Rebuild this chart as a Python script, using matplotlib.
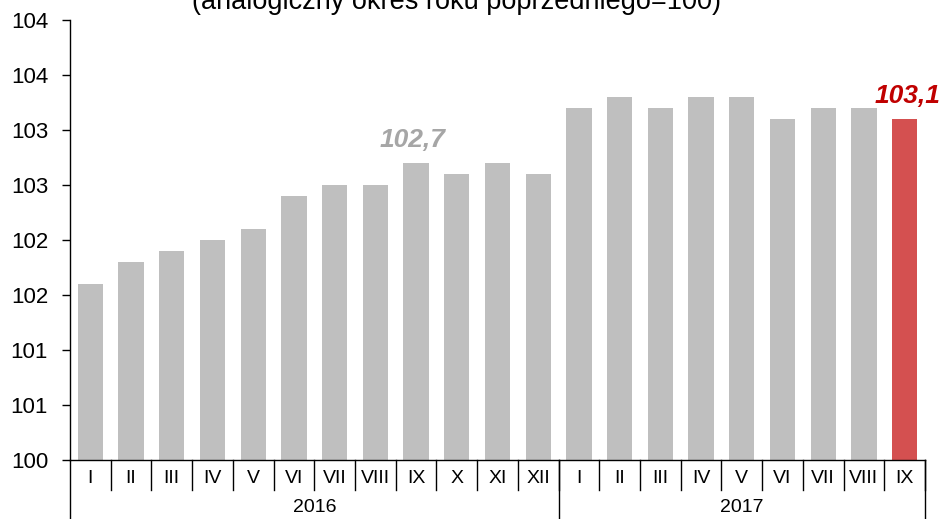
import matplotlib
matplotlib.use("Agg")
import matplotlib.pyplot as plt

months = ["I", "II", "III", "IV", "V", "VI", "VII", "VIII", "IX", "X", "XI", "XII",
          "I", "II", "III", "IV", "V", "VI", "VII", "VIII", "IX"]
years = ["2016", "2017"]
year_counts = [12, 9]
values = [101.6, 101.8, 101.9, 102.0, 102.1, 102.4, 102.5, 102.5, 102.7, 102.6, 102.7, 102.6,
          103.2, 103.3, 103.2, 103.3, 103.3, 103.1, 103.2, 103.2, 103.1]
yticks = [100, 100.5, 101, 101.5, 102, 102.5, 103, 103.5, 104]
ytick_labels = ["100", "101", "101", "102", "102", "103", "103", "104", "104"]
subtitle = "(analogiczny okres roku poprzedniego=100)"
highlight_idx = [8, 20]
highlight_labels = ["102,7", "103,1"]

plt.rcParams['font.family'] = ['Liberation Sans', 'DejaVu Sans']

fig = plt.figure(figsize=(9.45, 5.19), dpi=100)
ax = fig.add_axes([70/945, 59/519, 855/945, 440/519])

grey = "#BFBFBF"
red = "#D45050"
colors = [grey] * len(values)
colors[-1] = red
x = list(range(len(values)))
ax.bar(x, [v - 100 for v in values], bottom=100, width=0.62, color=colors, zorder=2)

ax.set_xlim(-0.5, len(values) - 0.5)
ax.set_ylim(100, 104)
ax.set_yticks(yticks)
ax.set_yticklabels(ytick_labels, fontsize=16)
ax.tick_params(axis='y', direction='out', length=5.8, width=1, pad=10, colors='black')
ax.set_xticks([])
for s in ['top', 'right']:
    ax.spines[s].set_visible(False)
ax.spines['left'].set_linewidth(1)
ax.spines['bottom'].set_linewidth(1)

# month labels and separators
trans = ax.get_xaxis_transform()
for i, m in enumerate(months):
    ax.text(i, -0.041, m, transform=trans, ha='center', va='center', fontsize=14)
for i in range(1, len(months) + 1):
    ax.plot([i - 0.5, i - 0.5], [0, -0.068], transform=trans, color='black', lw=1, clip_on=False)

# year labels and separators
start = 0
bounds = [-0.5]
for y, c in zip(years, year_counts):
    center = start + (c - 1) / 2
    ax.text(center, -0.107, y, transform=trans, ha='center', va='center', fontsize=14)
    start += c
    bounds.append(start - 0.5)
for b in bounds:
    ax.plot([b, b], [0, -0.2], transform=trans, color='black', lw=1, clip_on=False)

# highlight labels
lab_colors = ["#A6A6A6", "#C00000"]
offsets = [0.0, 0.15]
for idx, lab, col, off in zip(highlight_idx, highlight_labels, lab_colors, offsets):
    ax.text(idx - 0.08 + off, values[idx] + 0.21, lab, ha='center', va='center',
            fontsize=19, fontweight='bold', fontstyle='italic', color=col, clip_on=False)

fig.text(457/945, 1 - 9/519, subtitle, ha='center', va='baseline', fontsize=19.5)

fig.savefig("out.png", dpi=100)
